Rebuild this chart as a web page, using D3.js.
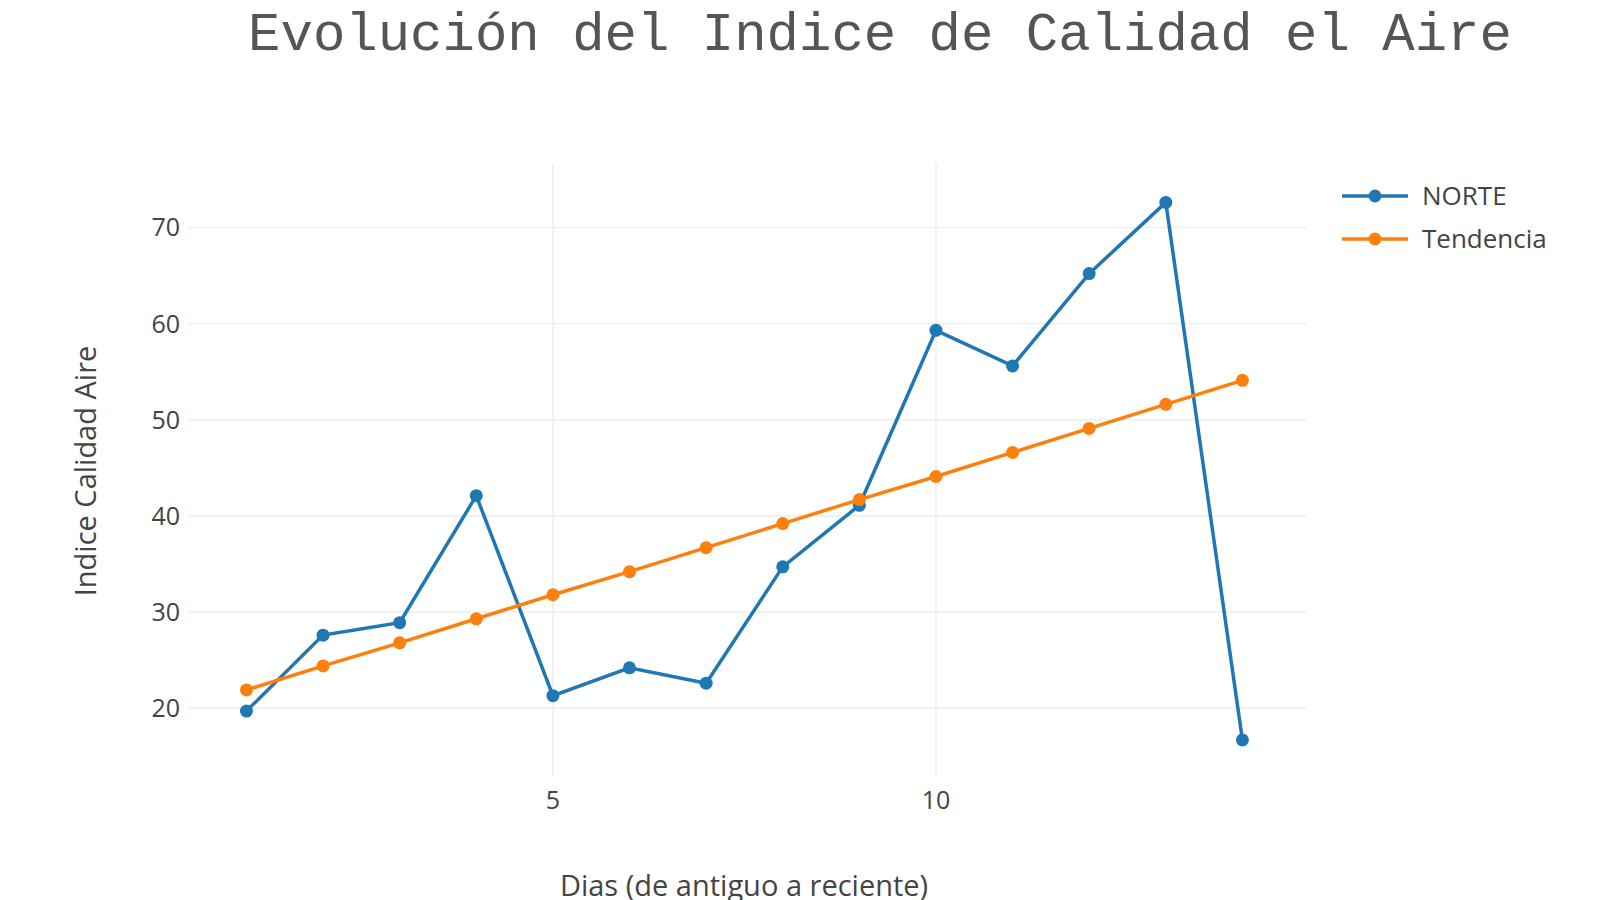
<!DOCTYPE html>
<html><head><meta charset="utf-8">
<script src="https://cdn.jsdelivr.net/npm/d3@7"></script>
<style>body{margin:0;background:#fff}</style></head>
<body><svg id="c" width="1600" height="900"></svg>
<script>
const days = [1,2,3,4,5,6,7,8,9,10,11,12,13,14];
const norte = [19.7,27.6,28.9,42.1,21.3,24.2,22.6,34.7,41.1,59.3,55.6,65.2,72.6,16.7];
const tendencia = [21.9,24.4,26.8,29.3,31.8,34.2,36.7,39.2,41.7,44.1,46.6,49.1,51.6,54.1];
const xTicks = [5,10];
const yTicks = [20,30,40,50,60,70];
const seriesNames = ["NORTE","Tendencia"];
const colors = ["#1f77b4","#ff7f0e"];

const svg = d3.select("#c");
const x = d3.scaleLinear().domain([0.25,14.83]).range([189,1306]);
const y = d3.scaleLinear().domain([12.95,76.7]).range([776,163]);
const font = "'Open Sans', 'Noto Sans', sans-serif";

svg.append("g").selectAll("line").data(xTicks).join("line")
  .attr("x1",d=>x(d)).attr("x2",d=>x(d)).attr("y1",163).attr("y2",776)
  .attr("stroke","#eee").attr("stroke-width",1.5);
svg.append("g").selectAll("line").data(yTicks).join("line")
  .attr("x1",189).attr("x2",1306).attr("y1",d=>y(d)).attr("y2",d=>y(d))
  .attr("stroke","#eee").attr("stroke-width",1.5);

svg.append("g").selectAll("text").data(xTicks).join("text")
  .attr("x",d=>x(d)).attr("y",809).attr("text-anchor","middle")
  .attr("font-family",font).attr("font-size",25).attr("fill","#444").text(d=>d);
svg.append("g").selectAll("text").data(yTicks).join("text")
  .attr("x",180).attr("y",d=>y(d)+9).attr("text-anchor","end")
  .attr("font-family",font).attr("font-size",25).attr("fill","#444").text(d=>d);

const line = d3.line().x((d,i)=>x(days[i])).y(d=>y(d));
[norte,tendencia].forEach((s,k)=>{
  const g = svg.append("g");
  g.append("path").attr("d",line(s)).attr("fill","none").attr("stroke",colors[k]).attr("stroke-width",3.5);
  g.selectAll("circle").data(s).join("circle").attr("cx",(d,i)=>x(days[i])).attr("cy",d=>y(d))
   .attr("r",6.5).attr("fill",colors[k]);
});

seriesNames.forEach((n,k)=>{
  const yy = 196 + k*43;
  svg.append("line").attr("x1",1342).attr("x2",1408).attr("y1",yy).attr("y2",yy).attr("stroke",colors[k]).attr("stroke-width",3.5);
  svg.append("circle").attr("cx",1375).attr("cy",yy).attr("r",6.5).attr("fill",colors[k]);
  svg.append("text").attr("x",1422).attr("y",yy+9).attr("font-family",font).attr("font-size",26).attr("fill","#444").text(n);
});

svg.append("text").attr("x",880).attr("y",50).attr("text-anchor","middle")
  .attr("font-family","'Liberation Mono', 'DejaVu Sans Mono', monospace").attr("font-size",54).attr("fill","#555")
  .text("Evolución del Indice de Calidad el Aire");
svg.append("text").attr("x",744).attr("y",896).attr("text-anchor","middle")
  .attr("font-family",font).attr("font-size",29).attr("fill","#444").text("Dias (de antiguo a reciente)");
svg.append("text").attr("transform","translate(96,471) rotate(-90)").attr("text-anchor","middle")
  .attr("font-family",font).attr("font-size",29).attr("fill","#444").text("Indice Calidad Aire");
</script></body></html>
